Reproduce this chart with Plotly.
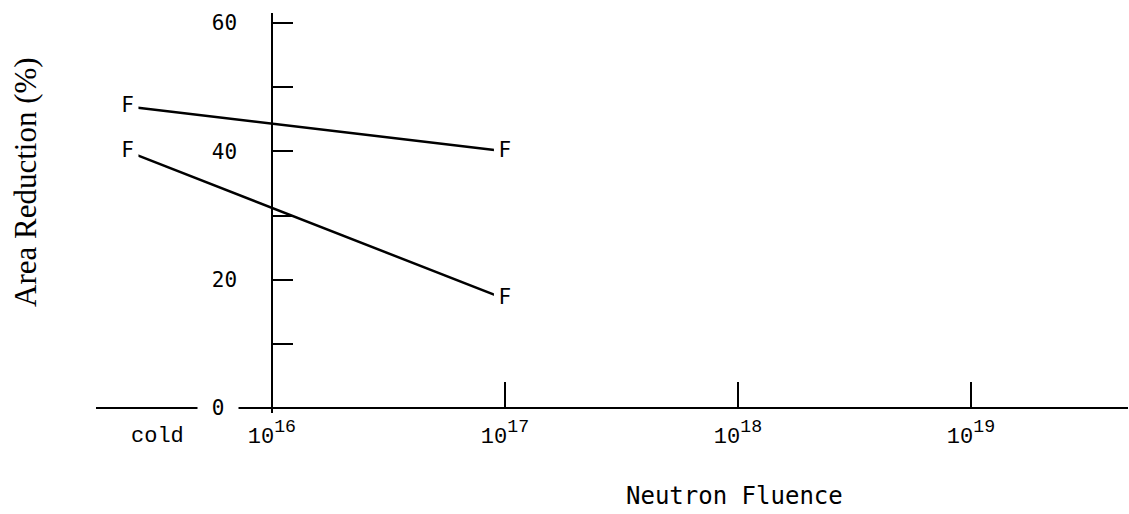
import plotly.graph_objects as go

# Neutron fluence positions (log10) and the "cold" reference position
cold_fluence_log = 15.38
cold_label_log = 15.51
fluence = [10 ** cold_fluence_log, 1e17]

# Area reduction (%) for the two tested series
series_upper = [47, 40]
series_lower = [40, 17]

x_tick_vals = [1e16, 1e17, 1e18, 1e19]
x_tick_exp = ["16", "17", "18", "19"]
y_tick_vals = [0, 10, 20, 30, 40, 50, 60]
y_tick_text = ["", "", "20", "", "40", "", "60"]

mono = "DejaVu Sans Mono"
courier = "Liberation Mono"
serif = "Liberation Serif"

# enlarge the exponent so the superscript is close to the base size
x_tick_text = [
    "10<span style='font-size:26px'><sup>%s</sup></span>" % e for e in x_tick_exp
]

fig = go.Figure()

for vals in (series_upper, series_lower):
    fig.add_trace(go.Scatter(
        x=fluence, y=vals, mode="lines",
        line=dict(color="black", width=2.5),
        hoverinfo="skip", showlegend=False,
    ))
for vals in (series_upper, series_lower):
    # white squares leave a small gap between the line and the "F" symbol
    fig.add_trace(go.Scatter(
        x=fluence, y=vals, mode="markers+text",
        marker=dict(symbol="square", size=22, color="white"),
        text=["F"] * len(vals), textposition="middle center",
        textfont=dict(family=mono, size=21, color="black"),
        hoverinfo="skip", showlegend=False,
    ))

W, H = 1129, 514
left, right, top, bottom = 96, 1, 13, 101
plot_h = H - top - bottom
plot_w = W - left - right
y_min, y_max = -0.779, 61.56
zero_pos = (0 - y_min) / (y_max - y_min)

fig.update_layout(
    width=W, height=H,
    margin=dict(l=left, r=right, t=top, b=bottom),
    paper_bgcolor="white", plot_bgcolor="white",
    xaxis=dict(
        type="log", range=[15.245, 19.674],
        anchor="free", position=zero_pos,
        showline=True, linecolor="black", linewidth=2,
        showgrid=False, zeroline=False,
        tickmode="array", tickvals=x_tick_vals, ticktext=x_tick_text,
        ticks="inside", ticklen=25, tickwidth=2, tickcolor="black",
        tickfont=dict(family=courier, size=22, color="black"),
        ticklabelstandoff=8,
    ),
    yaxis=dict(
        range=[y_min, y_max],
        anchor="free", position=(272 - left) / plot_w,
        showline=True, linecolor="black", linewidth=1.5,
        showgrid=False, zeroline=False,
        tickmode="array", tickvals=y_tick_vals, ticktext=y_tick_text,
        ticks="inside", ticklen=20, tickwidth=2, tickcolor="black",
        tickfont=dict(family=mono, size=21, color="black"),
        ticklabelstandoff=30,
    ),
    annotations=[
        dict(text="\u00a00\u00a0", x=15.77, y=0, xref="x", yref="y",
             showarrow=False, bgcolor="white", borderpad=1,
             font=dict(family=mono, size=21, color="black")),
        dict(text="cold", x=cold_label_log, y=(413 - 436) / plot_h,
             xref="x", yref="paper", showarrow=False,
             xanchor="center", yanchor="middle",
             font=dict(family=courier, size=22, color="black")),
        dict(text="Neutron Fluence", x=(734 - left) / plot_w,
             y=(413 - 496) / plot_h, xref="paper", yref="paper",
             showarrow=False, xanchor="center", yanchor="middle",
             font=dict(family=mono, size=24, color="black")),
        dict(text="Area Reduction (%)", x=(25 - left) / plot_w,
             y=(413 - 182) / plot_h, xref="paper", yref="paper",
             showarrow=False, textangle=-90,
             xanchor="center", yanchor="middle",
             font=dict(family=serif, size=31, color="black")),
    ],
)

fig.write_html("out.html")
